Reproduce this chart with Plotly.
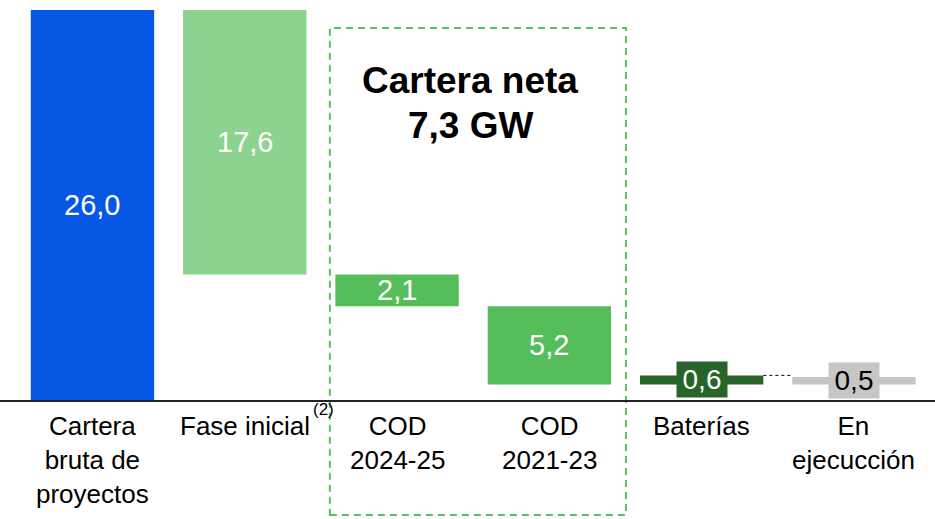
import plotly.graph_objects as go

# categories and values (GW)
categories = ["Cartera<br>bruta de<br>proyectos", "Fase inicial", "COD<br>2024-25",
              "COD<br>2021-23", "Baterías", "En<br>ejecucción"]
values = [26.0, 17.6, 2.1, 5.2, 0.6, 0.5]
bases = [0.0, 8.4, 6.3, 1.1, 1.1, 1.1]
value_labels = ["26,0", "17,6", "2,1", "5,2", "0,6", "0,5"]
colors = ["#0557E4", "#8CD38F", "#55BE5B", "#55BE5B", "#286429", "#C6C6C6"]
total_lines = ["Cartera neta", "7,3 GW"]

FONT = "Liberation Sans, Arial, sans-serif"
BAR_W = 0.81
xs = list(range(len(categories)))

fig = go.Figure()
fig.add_trace(go.Bar(
    x=xs, y=values, base=bases, width=BAR_W,
    marker=dict(color=colors, line=dict(width=0)),
    hoverinfo="skip",
))

# value labels inside bars
for i, (v, b, t) in enumerate(zip(values, bases, value_labels)):
    mid = b + v / 2
    if i < 4:
        fig.add_annotation(x=i, y=mid, text=t, showarrow=False,
                           font=dict(family=FONT, size=29, color="white"))
    else:
        fig.add_annotation(x=i, y=mid, text=t, showarrow=False,
                           bgcolor=colors[i], width=50, height=35, borderpad=0,
                           font=dict(family=FONT, size=28,
                                     color="white" if i == 4 else "black"))

# category labels below baseline
for i, c in enumerate(categories):
    fig.add_annotation(x=i, y=-0.53, text=c, showarrow=False, yanchor="top",
                       font=dict(family=FONT, size=26, color="black"))
fig.add_annotation(x=1.52, y=-0.6, text="(2)", showarrow=False,
                   font=dict(family=FONT, size=17, color="black"))

# dashed box around net portfolio
fig.add_shape(type="rect", x0=1.559, x1=3.503, y0=-7.58, y1=24.8,
              line=dict(color="#5BC25E", width=2, dash="7px,5px"))
for yv, line in zip([21.28, 18.3], total_lines):
    fig.add_annotation(x=2.48, y=yv, text="<b>" + line + "</b>", showarrow=False,
                       font=dict(family=FONT, size=37, color="black"))

# connector between last two bars
top4 = bases[4] + values[4]
fig.add_shape(type="line", x0=4 + BAR_W / 2, x1=5 - BAR_W / 2, y0=top4, y1=top4,
              line=dict(color="black", width=1, dash="dot"))

# baseline
fig.add_shape(type="line", xref="paper", x0=0, x1=1, y0=0, y1=0,
              line=dict(color="#222222", width=2))

fig.update_layout(
    width=935, height=519,
    margin=dict(l=0, r=0, t=0, b=0),
    paper_bgcolor="white", plot_bgcolor="white",
    showlegend=False,
    xaxis=dict(range=[-0.607, 5.532], visible=False),
    yaxis=dict(range=[-7.85, 26.66], visible=False),
)

fig.write_html("out.html", config={"displayModeBar": False},
               post_script="document.body.style.margin='0';")
